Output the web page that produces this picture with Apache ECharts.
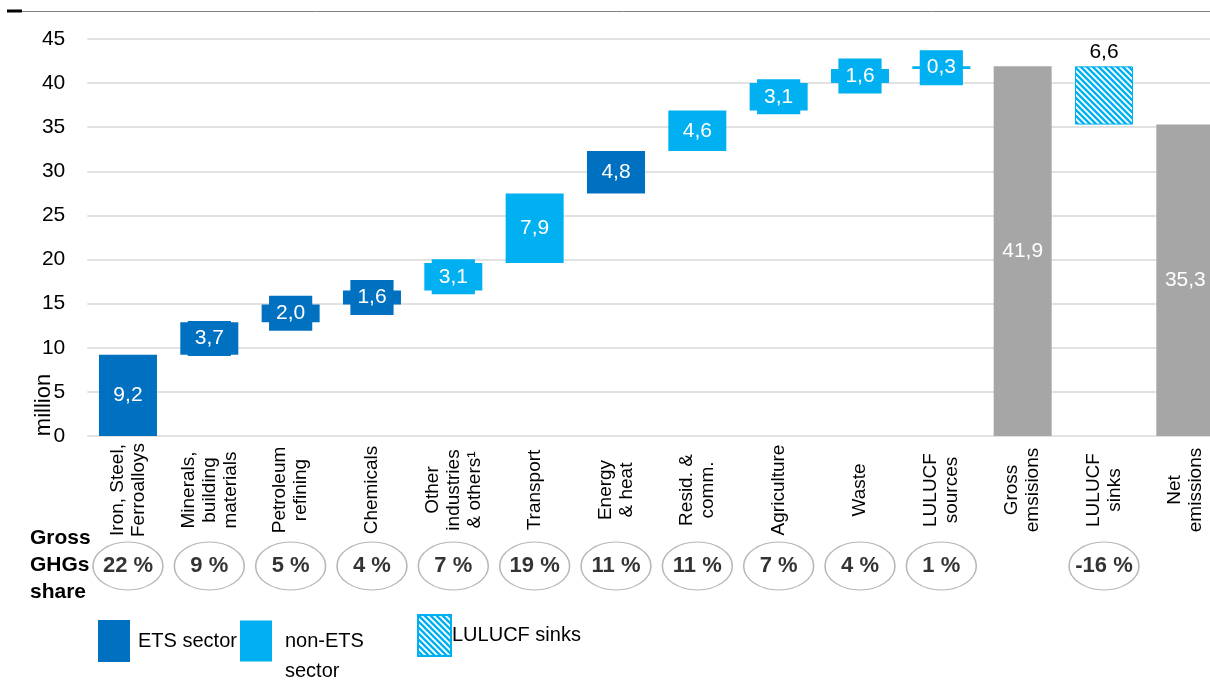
<!DOCTYPE html>
<html>
<head>
<meta charset="utf-8">
<script src="https://cdn.jsdelivr.net/npm/echarts@6/dist/echarts.min.js"></script>
<style>
  html, body { margin: 0; padding: 0; background: #fff; overflow: hidden; }
  #chart { width: 1240px; height: 682px; }
</style>
</head>
<body>
<div id="chart"></div>
<script>
// waterfall data (million t CO2e)
const categories = [
  'Iron, Steel,\nFerroalloys', 'Minerals,\nbuilding\nmaterials', 'Petroleum\nrefining', 'Chemicals',
  'Other\nindustries\n& others¹', 'Transport', 'Energy\n& heat', 'Resid. &\ncomm.', 'Agriculture',
  'Waste', 'LULUCF\nsources', 'Gross\nemsisions', 'LULUCF\nsinks', 'Net\nemissions'
]
const steps = [9.2, 3.7, 2.0, 1.6, 3.1, 7.9, 4.8, 4.6, 3.1, 1.6, 0.3, 41.9, 6.6, 35.3]
const bases = [0, 9.2, 12.9, 14.9, 16.5, 19.6, 27.5, 32.3, 36.9, 40.0, 41.6, 0, 35.3, 0]
const kinds = ['ets', 'ets', 'ets', 'ets', 'non', 'non', 'ets', 'non', 'non', 'non', 'non', 'total', 'sink', 'total']
const shares = [22, 9, 5, 4, 7, 19, 11, 11, 7, 4, 1, null, -16, null]

const FONT = '"Liberation Sans", Arial, sans-serif'
const ETS = '#0070C0'
const NON = '#00B0F0'
const GREY = '#A6A6A6'

const fmt = v => Number(v).toFixed(1).replace('.', ',')
const pick = k => steps.map((v, i) => (kinds[i] === k ? v : '-'))

function hatch() {
  const c = document.createElement('canvas')
  c.width = 6
  c.height = 6
  const g = c.getContext('2d')
  g.fillStyle = '#fff'
  g.fillRect(0, 0, 6, 6)
  g.strokeStyle = NON
  g.lineWidth = 2.4
  g.beginPath()
  g.moveTo(-1, -1); g.lineTo(7, 7)
  g.moveTo(-1, 5); g.lineTo(7, 13)
  g.moveTo(-1, -7); g.lineTo(7, 1)
  g.stroke()
  return c
}

const boxLabel = color => ({
  show: true,
  position: 'inside',
  color: '#fff',
  fontFamily: FONT,
  fontSize: 21,
  lineHeight: 21,
  backgroundColor: color,
  padding: [7, 7],
  formatter: p => fmt(p.value)
})

// chart div is a bit wider than the window so the last band runs off the edge like the original
const gridL = 87.3
const gridR = 14

const chart = echarts.init(document.getElementById('chart'))
chart.setOption({
  animation: false,
  textStyle: { fontFamily: FONT },
  grid: [
    { left: gridL, right: gridR, top: 39, bottom: 246 },
    { left: gridL, right: gridR, top: 540, height: 52 }
  ],
  legend: [
    {
      data: ['ETS sector'], left: 98, top: 620, padding: 0, icon: 'rect',
      itemWidth: 32, itemHeight: 42, selectedMode: false,
      textStyle: { fontFamily: FONT, fontSize: 20, color: '#000', padding: [0, 0, 0, 3] }
    },
    {
      data: ['non-ETS sector'], left: 240, top: 596, padding: 0, icon: 'rect',
      itemWidth: 32, itemHeight: 41, selectedMode: false,
      formatter: () => '\nnon-ETS\nsector',
      textStyle: { fontFamily: FONT, fontSize: 20, lineHeight: 30, color: '#000', padding: [0, 0, 0, 8] }
    },
    {
      data: ['LULUCF sinks'], left: 417, top: 614, padding: 0, icon: 'rect',
      itemWidth: 33, itemHeight: 41, selectedMode: false,
      textStyle: { fontFamily: FONT, fontSize: 20, color: '#000', padding: [0, 0, 0, -4] }
    }
  ],
  xAxis: [
    {
      type: 'category',
      data: categories,
      gridIndex: 0,
      axisLine: { show: false },
      axisTick: { show: false },
      axisLabel: {
        interval: 0, rotate: 90, margin: 54, align: 'center', verticalAlign: 'middle',
        fontFamily: FONT, fontSize: 19, lineHeight: 21, color: '#000'
      }
    },
    { type: 'category', data: categories, gridIndex: 1, show: false }
  ],
  yAxis: [
    {
      type: 'value', gridIndex: 0, min: 0, max: 45, interval: 5,
      axisLine: { show: false },
      axisTick: { show: false },
      axisLabel: { fontFamily: FONT, fontSize: 21, color: '#000', margin: 22 },
      splitLine: { lineStyle: { color: '#D9D9D9', width: 1.5 } }
    },
    { type: 'value', gridIndex: 1, min: -1, max: 1, show: false }
  ],
  series: [
    {
      name: 'base', type: 'bar', stack: 'w', barWidth: 58, silent: true,
      itemStyle: { color: 'transparent' }, data: bases
    },
    {
      name: 'ETS sector', type: 'bar', stack: 'w', barWidth: 58,
      itemStyle: { color: ETS }, label: boxLabel(ETS), data: pick('ets')
    },
    {
      name: 'non-ETS sector', type: 'bar', stack: 'w', barWidth: 58,
      itemStyle: { color: NON }, label: boxLabel(NON), data: pick('non')
    },
    {
      name: 'Gross/Net', type: 'bar', stack: 'w', barWidth: 58,
      itemStyle: { color: GREY },
      label: { show: true, position: 'inside', color: '#fff', fontFamily: FONT, fontSize: 21, formatter: p => fmt(p.value) },
      data: pick('total')
    },
    {
      name: 'LULUCF sinks', type: 'bar', stack: 'w', barWidth: 58,
      itemStyle: { color: { image: hatch(), repeat: 'repeat' }, borderColor: NON, borderWidth: 1 },
      label: { show: true, position: 'top', distance: 4, color: '#000', fontFamily: FONT, fontSize: 21, formatter: p => fmt(p.value) },
      data: pick('sink')
    },
    {
      name: 'share', type: 'scatter', xAxisIndex: 1, yAxisIndex: 1, silent: true,
      symbol: 'circle', symbolSize: [70, 48],
      itemStyle: { color: '#fff', borderColor: GREY, borderWidth: 1.3 },
      label: {
        show: true, position: 'inside', color: '#000', fontFamily: FONT, fontSize: 22, fontWeight: 'bold',
        formatter: p => p.value[2] + ' %'
      },
      data: shares.map((s, i) => [i, 0, s]).filter(d => d[2] !== null)
    }
  ],
  graphic: [
    { type: 'line', shape: { x1: 7, y1: 11.5, x2: 1240, y2: 11.5 }, style: { stroke: '#808080', lineWidth: 1 } },
    { type: 'line', shape: { x1: 7, y1: 11, x2: 22, y2: 11 }, style: { stroke: '#000', lineWidth: 3 } },
    {
      type: 'text', x: 44, y: 405, rotation: Math.PI / 2,
      style: { text: 'million', font: '22px ' + FONT, fill: '#000', textAlign: 'center', textVerticalAlign: 'middle' }
    },
    {
      type: 'text', left: 30, top: 525,
      style: { text: 'Gross\nGHGs\nshare', font: 'bold 21px ' + FONT, lineHeight: 27, fill: '#000' }
    }
  ]
})
</script>
</body>
</html>
